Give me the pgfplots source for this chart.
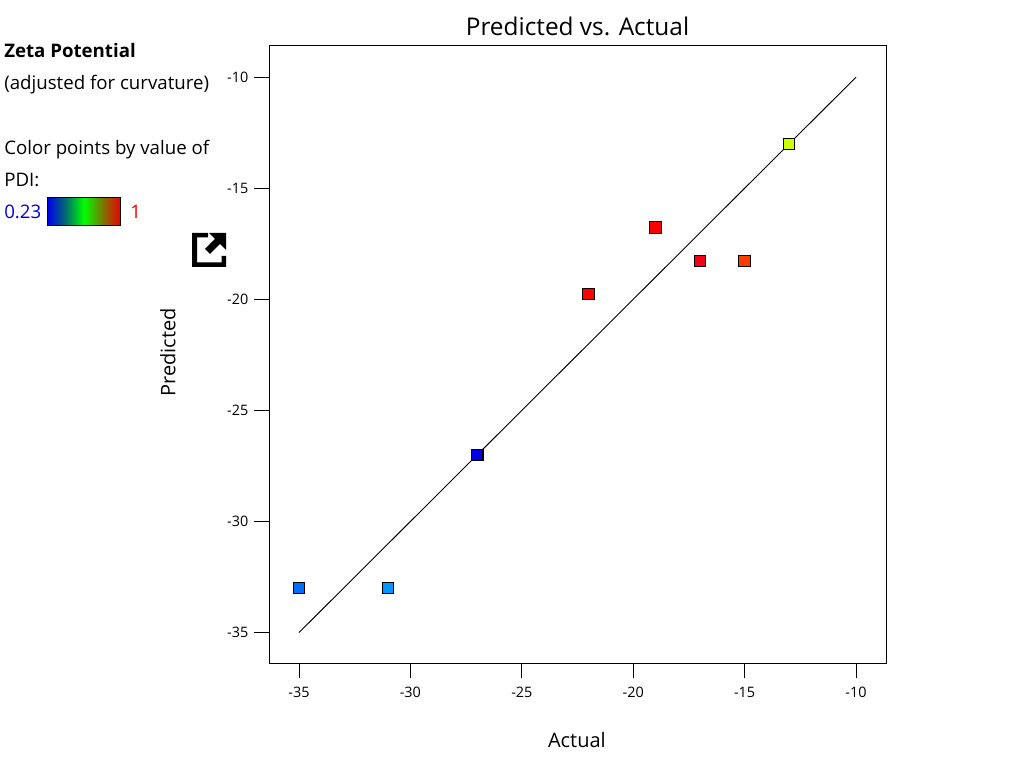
\documentclass[border=0pt]{standalone}
\usepackage{pgfplots}
\pgfplotsset{compat=1.18}
\usepackage{fontspec}
\setmainfont{Open Sans}
\definecolor{pdia}{RGB}{0,0,235}
\definecolor{pdib}{RGB}{0,110,110}
\definecolor{pdic}{RGB}{0,255,0}
\definecolor{pdid}{RGB}{120,120,0}
\definecolor{pdie}{RGB}{235,0,0}
\pgfdeclarehorizontalshading{pdibar}{100bp}{
 color(0bp)=(pdia); color(25bp)=(pdia); color(37.5bp)=(pdib); color(50bp)=(pdic); color(62.5bp)=(pdid); color(75bp)=(pdie); color(100bp)=(pdie)}
\definecolor{p1}{RGB}{0,110,255}
\definecolor{p2}{RGB}{0,150,255}
\definecolor{p3}{RGB}{0,0,230}
\definecolor{p4}{RGB}{255,0,0}
\definecolor{p5}{RGB}{255,0,0}
\definecolor{p6}{RGB}{245,0,20}
\definecolor{p7}{RGB}{255,60,0}
\definecolor{p8}{RGB}{205,255,0}
\pgfplotsset{pt/.style={only marks,mark=square*,mark size=4.3pt,mark options={draw=black,fill=#1,line width=0.8pt}}}
\begin{document}
\begin{tikzpicture}
\path[use as bounding box] (0,0) rectangle (768pt,576pt);
\begin{axis}[at={(201.75pt,78.75pt)},anchor=south west,scale only axis,
 width=462.75pt,height=463pt,
 xmin=-36.346,xmax=-8.654,ymin=-36.37,ymax=-8.58,
 xtick={-35,-30,-25,-20,-15,-10},ytick={-35,-30,-25,-20,-15,-10},
 tick align=outside,tick pos=lower,
 major tick length=11pt,
 every tick/.style={black,line width=0.6pt},
 axis line style={line width=0.75pt},
 /pgf/number format/assume math mode=true,
 ticklabel style={font=\fontsize{10.8pt}{12pt}\selectfont},
 xticklabel style={yshift=-3.5pt},
 yticklabel style={xshift=-1pt},
 title={Predicted vs. Actual},
 title style={font=\fontsize{18.3pt}{21pt}\selectfont,at={(0.5,1)},anchor=base,yshift=1.5pt},
 xlabel={Actual},ylabel={Predicted},
 every axis x label/.style={at={(axis description cs:0.499,-0.1246)},anchor=center},
 every axis y label/.style={at={(axis description cs:-0.1637,0.503)},rotate=90,anchor=center},
 label style={font=\fontsize{15pt}{17pt}\selectfont},
 clip=false]
\addplot[black,line width=0.7pt] coordinates {(-35,-35) (-10,-10)};
\addplot[pt=p1] coordinates {(-35,-33)};
\addplot[pt=p2] coordinates {(-31,-33)};
\addplot[pt=p3] coordinates {(-27,-27)};
\addplot[pt=p4] coordinates {(-22,-19.76)};
\addplot[pt=p5] coordinates {(-19,-16.77)};
\addplot[pt=p6] coordinates {(-17,-18.27)};
\addplot[pt=p7] coordinates {(-15,-18.27)};
\addplot[pt=p8] coordinates {(-13,-13)};
\end{axis}
\begin{scope}[shift={(0,576pt)},x=0.75pt,y=-0.75pt]
\node[anchor=base west,inner sep=0,font=\fontsize{14pt}{16pt}\selectfont\bfseries] at (4,58) {Zeta Potential};
\node[anchor=base west,inner sep=0,font=\fontsize{14pt}{16pt}\selectfont] at (4,90) {(adjusted for curvature)};
\node[anchor=base west,inner sep=0,font=\fontsize{14pt}{16pt}\selectfont] at (4,155) {Color points by value of};
\node[anchor=base west,inner sep=0,font=\fontsize{14pt}{16pt}\selectfont] at (4,187) {PDI:};
\node[anchor=base west,inner sep=0,font=\fontsize{14pt}{16pt}\selectfont,text={rgb,255:red,0;green,0;blue,230}] at (4,219) {0.23};
\node[anchor=base west,inner sep=0,font=\fontsize{14pt}{16pt}\selectfont,text=red] at (130,219) {1};
\path[shading=pdibar] (47.5,197.5) rectangle (120.5,225.5);
\draw[black,line width=0.9pt] (47.5,197.5) rectangle (120.5,225.5);
\fill[black] (192,233) -- (208,233) -- (208,237.5) -- (197,237.5) -- (197,262.5) -- (221.5,262.5) -- (221.5,256) -- (226,256) -- (226,267) -- (192,267) -- cycle;
\fill[black] (209,233) -- (226,233) -- (226,250) -- (220,244) -- (210,254) -- (205,249) -- (215,239) -- cycle;
\end{scope}
\end{tikzpicture}
\end{document}
